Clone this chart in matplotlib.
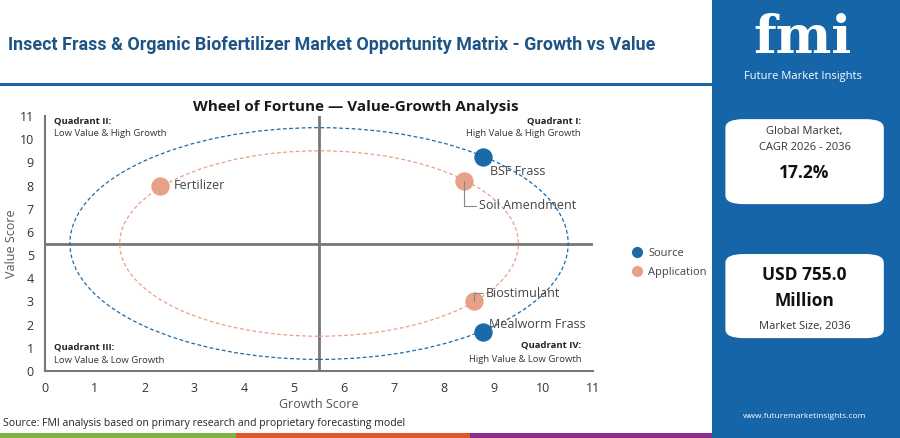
import matplotlib
matplotlib.use("Agg")
import matplotlib.pyplot as plt
from matplotlib.patches import Ellipse, Rectangle, FancyBboxPatch
from matplotlib.lines import Line2D

plt.rcParams['font.family'] = ['Open Sans', 'DejaVu Sans']

# data
names = ['BSF Frass', 'Mealworm Frass', 'Soil Amendment', 'Fertilizer', 'Biostimulant']
groups = ['Source', 'Source', 'Application', 'Application', 'Application']
growth = [8.8, 8.8, 8.4, 2.3, 8.6]
value = [9.25, 1.7, 8.2, 8.0, 3.0]
ring_radius = {'Source': 5.0, 'Application': 4.0}
center = 5.5

colors = {'Source': '#1a6aa8', 'Application': '#e9a088'}
fmi_blue = '#1565a8'

fig = plt.figure(figsize=(9, 4.38), dpi=100)
fig.patch.set_facecolor('white')

ax = fig.add_axes([0.05, 0.153, 0.609, 0.582])
ax.set_xlim(0, 11)
ax.set_ylim(0, 11)
ax.set_xticks(range(0, 12))
ax.set_yticks(range(0, 12))
for s in ['top', 'right']:
    ax.spines[s].set_visible(False)
for s in ['left', 'bottom']:
    ax.spines[s].set_color('#777777')
    ax.spines[s].set_linewidth(1.5)
ax.tick_params(length=0, labelsize=9, colors='#333333', pad=8)
ax.set_xlabel('Growth Score', fontsize=9, color='#555555', labelpad=2)
ax.set_ylabel('Value Score', fontsize=9, color='#555555', labelpad=1)

ax.axvline(center, color='#777777', lw=2, zorder=1)
ax.axhline(center, color='#777777', lw=2, zorder=1)

for g, r in ring_radius.items():
    ax.add_patch(Ellipse((center, center), 2 * r, 2 * r, fill=False,
                         ls=(0, (3, 2)), lw=0.9, ec=colors[g], zorder=2))

for g in ['Source', 'Application']:
    xs = [x for x, gg in zip(growth, groups) if gg == g]
    ys = [y for y, gg in zip(value, groups) if gg == g]
    ax.scatter(xs, ys, s=175, color=colors[g], zorder=4, lw=0)

offsets = {
    'BSF Frass': (5, -11, None),
    'Mealworm Frass': (4, 5, None),
    'Soil Amendment': (11, -18, 'angle,angleA=0,angleB=90,rad=0'),
    'Fertilizer': (10, 0, None),
    'Biostimulant': (9, 6, 'angle,angleA=0,angleB=90,rad=0'),
}
for n, x, y in zip(names, growth, value):
    dx, dy, conn = offsets[n]
    kw = {}
    if conn:
        kw['arrowprops'] = dict(arrowstyle='-', color='#888888', lw=0.8,
                                connectionstyle=conn, shrinkA=0, shrinkB=0)
    ax.annotate(n, (x, y), xytext=(dx, dy), textcoords='offset points',
                fontsize=9, color='#444444', va='center', ha='left', zorder=5, **kw)

qfs = 6.8
ax.text(0.017, 0.982, 'Quadrant II:', transform=ax.transAxes, fontsize=qfs, fontweight='bold', color='#222222', va='center')
ax.text(0.017, 0.930, 'Low Value & High Growth', transform=ax.transAxes, fontsize=qfs, color='#333333', va='center')
ax.text(0.978, 0.982, 'Quadrant I:', transform=ax.transAxes, fontsize=qfs, fontweight='bold', color='#222222', va='center', ha='right')
ax.text(0.978, 0.930, 'High Value & High Growth', transform=ax.transAxes, fontsize=qfs, color='#333333', va='center', ha='right')
ax.text(0.017, 0.096, 'Quadrant III:', transform=ax.transAxes, fontsize=qfs, fontweight='bold', color='#222222', va='center')
ax.text(0.017, 0.043, 'Low Value & Low Growth', transform=ax.transAxes, fontsize=qfs, color='#333333', va='center')
ax.text(0.978, 0.100, 'Quadrant IV:', transform=ax.transAxes, fontsize=qfs, fontweight='bold', color='#222222', va='center', ha='right')
ax.text(0.978, 0.047, 'High Value & Low Growth', transform=ax.transAxes, fontsize=qfs, color='#333333', va='center', ha='right')

ax.set_title('Wheel of Fortune \u2014 Value-Growth Analysis', fontsize=11, fontweight='bold',
             color='#1a1a1a', pad=4, x=0.567)

handles = [Line2D([], [], marker='o', ls='', color=colors[g], markersize=7) for g in ['Source', 'Application']]
fig.legend(handles, ['Source', 'Application'], loc='center left', bbox_to_anchor=(0.684, 0.40),
           frameon=False, fontsize=8, handletextpad=0.05, labelspacing=0.75, labelcolor='#444444')

# header
fig.text(0.009, 0.897, 'Insect Frass & Organic Biofertilizer Market Opportunity Matrix - Growth vs Value',
         fontsize=12.9, fontweight='bold', color='#1d5485', va='center', family='Roboto')
fig.add_artist(Rectangle((0, 0.803), 0.792, 0.007, transform=fig.transFigure, color=fmi_blue, lw=0))

# footer
fig.text(0.003, 0.034, 'Source: FMI analysis based on primary research and proprietary forecasting model',
         fontsize=7.5, color='#222222', va='center')
bar_cols = ['#7cb342', '#e0582a', '#8e2c8e']
bar_edges = [0, 0.262, 0.522, 0.792]
for i, c in enumerate(bar_cols):
    fig.add_artist(Rectangle((bar_edges[i], 0), bar_edges[i + 1] - bar_edges[i], 0.012,
                             transform=fig.transFigure, color=c, lw=0))

# right panel
fig.add_artist(Rectangle((0.791, 0), 0.209, 1, transform=fig.transFigure, color=fmi_blue, lw=0))
fig.text(0.892, 0.88, 'fmi', fontsize=38, fontweight='bold', color='white', ha='center', va='baseline',
         family='DejaVu Serif')
fig.text(0.892, 0.826, 'Future Market Insights', fontsize=8, color='white', ha='center', va='center')

for y0, h in [(0.534, 0.194), (0.228, 0.192)]:
    fig.add_artist(FancyBboxPatch((0.806, y0), 0.176, h, boxstyle='round,pad=0,rounding_size=0.02',
                                  transform=fig.transFigure, fc='white', ec='none'))
fig.text(0.894, 0.700, 'Global Market,', fontsize=8, color='#333333', ha='center', va='center')
fig.text(0.894, 0.664, 'CAGR 2026 - 2036', fontsize=8, color='#333333', ha='center', va='center')
fig.text(0.894, 0.604, '17.2%', fontsize=12.5, fontweight='bold', color='#111111', ha='center', va='center')
fig.text(0.894, 0.372, 'USD 755.0', fontsize=12.5, fontweight='bold', color='#111111', ha='center', va='center')
fig.text(0.894, 0.313, 'Million', fontsize=12.5, fontweight='bold', color='#111111', ha='center', va='center')
fig.text(0.894, 0.254, 'Market Size, 2036', fontsize=8, color='#333333', ha='center', va='center')
fig.text(0.894, 0.048, 'www.futuremarketinsights.com', fontsize=6, color='white', ha='center', va='center')

fig.savefig('out.png', dpi=100)
